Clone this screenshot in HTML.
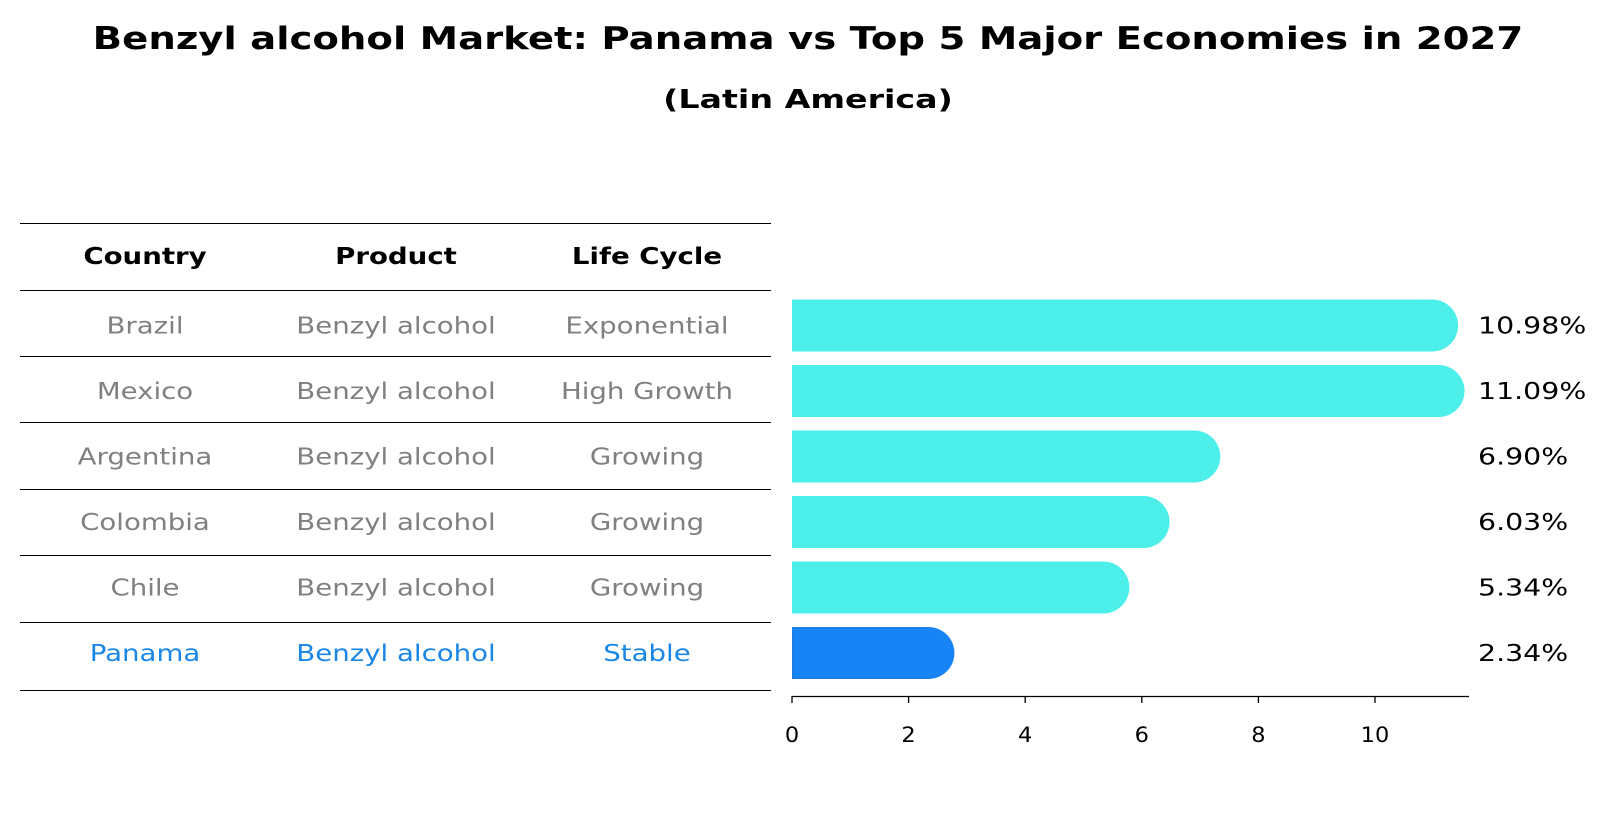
<!DOCTYPE html>
<html><head><meta charset="utf-8"><style>
body{margin:0;background:#fff;}
svg text{font-family:"DejaVu Sans","Liberation Sans",sans-serif;}
</style></head><body>
<svg width="1604" height="823" viewBox="0 0 1604 823">
<text id="ttl" x="808" y="49" text-anchor="middle" font-size="31" font-weight="bold">Benzyl alcohol Market: Panama vs Top 5 Major Economies in 2027</text>
<text id="sub" x="808" y="108" text-anchor="middle" font-size="26" font-weight="bold">(Latin America)</text>
<g id="table"></g>
<g id="bars"></g>
</svg>
<script>
const countries=["Brazil","Mexico","Argentina","Colombia","Chile","Panama"];
const products=["Benzyl alcohol","Benzyl alcohol","Benzyl alcohol","Benzyl alcohol","Benzyl alcohol","Benzyl alcohol"];
const lifeCycles=["Exponential","High Growth","Growing","Growing","Growing","Stable"];
const values=[10.98,11.09,6.90,6.03,5.34,2.34];
const valueLabels=["10.98%","11.09%","6.90%","6.03%","5.34%","2.34%"];
const ticks=[0,2,4,6,8,10];
const NS="http://www.w3.org/2000/svg";
function mk(t,a,p){const e=document.createElementNS(NS,t);for(const k in a)e.setAttribute(k,a[k]);p.appendChild(e);return e;}
function stretch(t,k){const w=t.getComputedTextLength();t.setAttribute('textLength',w*k);t.setAttribute('lengthAdjust','spacingAndGlyphs');}
stretch(document.getElementById('ttl'),1.246);
stretch(document.getElementById('sub'),1.28);
const x0=792,ppu=58.3;
const xs=v=>x0+v*ppu;
const rowY=i=>325.5+i*65.5;
const bh=52;
const tbl=document.getElementById('table');
const lineYs=[223.5,290.5,356.5,422.5,489.5,555.5,622.5,690.5];
lineYs.forEach(y=>{const l=mk('line',{x1:20,x2:771,y1:y,y2:y,stroke:'#000','stroke-width':1},tbl);

});
const cols=[145,396,647];
["Country","Product","Life Cycle"].forEach((h,j)=>{const t=mk('text',{x:cols[j],y:264,'text-anchor':'middle','font-size':23,'font-weight':'bold'},tbl);t.textContent=h;


stretch(t,1.2);});
countries.forEach((c,i)=>{const y=rowY(i)+8;const col=i===countries.length-1?'#1a86e6':'#808080';
[c,products[i],lifeCycles[i]].forEach((s,j)=>{const t=mk('text',{x:cols[j],y:y,'text-anchor':'middle','font-size':23,fill:col},tbl);t.textContent=s;


stretch(t,1.2);});});
const bars=document.getElementById('bars');
values.forEach((v,i)=>{const cy=rowY(i);const hl=i===values.length-1;const fill=hl?'#1784f5':'#4ceeea';
const g=mk('g',{},bars);


mk('rect',{x:x0,y:cy-bh/2,width:xs(v)-x0+1,height:bh,fill:fill},g);
mk('circle',{cx:xs(v),cy:cy,r:bh/2,fill:fill},g);
if(hl){const xe=xs(v);mk('path',{d:`M${xe} ${cy-bh/2+0.5} H${x0+0.5} V${cy+bh/2-0.5} H${xe}`,fill:'none',stroke:'#2f6fc0','stroke-width':1,'stroke-dasharray':'2 2'},g);}
const t=mk('text',{x:1478,y:cy+8,'font-size':23},bars);t.textContent=valueLabels[i];


stretch(t,1.235);});
const ax=mk('line',{x1:x0,x2:1469,y1:696.5,y2:696.5,stroke:'#000','stroke-width':1.3},bars);


ticks.forEach(tk=>{mk('line',{x1:xs(tk),x2:xs(tk),y1:696,y2:703,stroke:'#000','stroke-width':1.3},bars);
const t=mk('text',{x:xs(tk),y:742,'text-anchor':'middle','font-size':21},bars);t.textContent=tk;


stretch(t,1.07);});
</script>
</body></html>
